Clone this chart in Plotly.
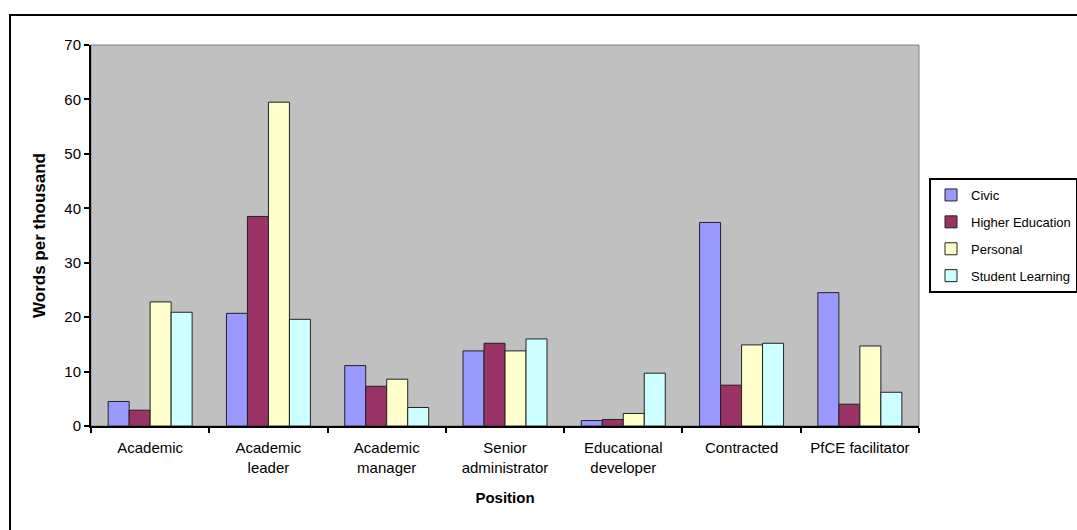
import plotly.graph_objects as go

categories = ["Academic", "Academic<br>leader", "Academic<br>manager", "Senior<br>administrator",
              "Educational<br>developer", "Contracted", "PfCE facilitator"]
series_names = ["Civic", "Higher Education", "Personal", "Student Learning"]
civic = [4.5, 20.7, 11.1, 13.8, 1.0, 37.4, 24.5]
higher_ed = [2.9, 38.5, 7.3, 15.2, 1.2, 7.5, 4.0]
personal = [22.8, 59.5, 8.6, 13.8, 2.3, 14.9, 14.7]
student_learning = [20.9, 19.6, 3.4, 16.0, 9.7, 15.2, 6.2]
colors = ["#9999FF", "#993366", "#FFFFCC", "#CCFFFF"]

fig = go.Figure()
for name, vals, col in zip(series_names, [civic, higher_ed, personal, student_learning], colors):
    fig.add_trace(go.Bar(x=categories, y=vals, name=name, legendgroup=name,
                         marker=dict(color=col, line=dict(color="#222222", width=1))))

W, H = 1077, 530
l, r, t, b = 91, 158, 45, 104
pw, ph = W - l - r, H - t - b

def px(x):
    return (x - l) / pw

def py(y):
    return (H - b - y) / ph

fig.update_layout(
    width=W, height=H,
    margin=dict(l=l, r=r, t=t, b=b, autoexpand=False),
    paper_bgcolor="white", plot_bgcolor="#C0C0C0",
    barmode="group", bargap=0.29, bargroupgap=0,
    font=dict(family="Liberation Sans, Arial", size=15, color="black"),
    showlegend=True,
    legend=dict(xref="container", yref="container", x=929 / W, y=1 - 178 / H,
                xanchor="left", yanchor="top",
                bordercolor="black", borderwidth=2, bgcolor="white",
                font=dict(size=13), tracegroupgap=7, traceorder="grouped",
                itemwidth=30),
    xaxis=dict(showline=True, linecolor="black", linewidth=2, ticks="outside",
               tickson="boundaries", ticklen=5, tickcolor="black", tickwidth=2,
               tickfont=dict(size=15), ticklabelstandoff=7,
               title=dict(text="<b>Position</b>", font=dict(size=15), standoff=18),
               showgrid=False, mirror=False),
    yaxis=dict(range=[0, 70], dtick=10, showline=True, linecolor="black", linewidth=2,
               ticks="outside", ticklen=5, tickcolor="black", tickwidth=2,
               tickfont=dict(size=15), showgrid=False, zeroline=False,
               title=dict(text="<b>Words per thousand</b>", font=dict(size=17), standoff=14)),
    shapes=[
        dict(type="rect", xref="paper", yref="paper", x0=px(10), x1=px(1100),
             y0=py(560), y1=py(15), line=dict(color="black", width=2), layer="below"),
        dict(type="rect", xref="paper", yref="paper", x0=0, x1=1, y0=0, y1=1,
             line=dict(color="#808080", width=1), layer="below"),
    ],
)

fig.write_html("out.html")
